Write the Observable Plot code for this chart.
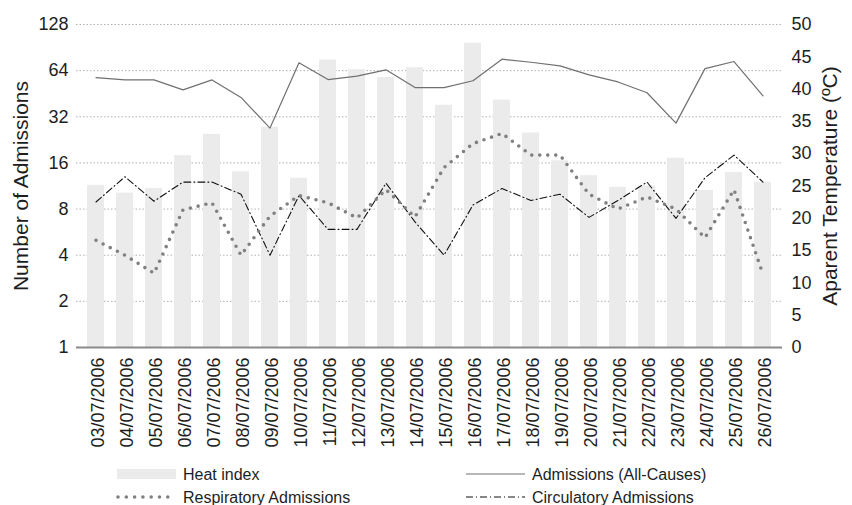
<!DOCTYPE html>
<html><head><meta charset="utf-8">
<script src="https://cdn.jsdelivr.net/npm/d3@7"></script>
<script src="https://cdn.jsdelivr.net/npm/@observablehq/plot@0.6"></script>
<style>
body{margin:0;background:#fff;font-family:"Liberation Sans",Arial,Helvetica,sans-serif;}
#wrap{width:852px;}
</style>
</head><body><div id="wrap"><div id="chart"></div><div id="legend"></div></div>
<script>
const dates = ["03/07/2006","04/07/2006","05/07/2006","06/07/2006","07/07/2006","08/07/2006","09/07/2006","10/07/2006","11/07/2006","12/07/2006","13/07/2006","14/07/2006","15/07/2006","16/07/2006","17/07/2006","18/07/2006","19/07/2006","20/07/2006","21/07/2006","22/07/2006","23/07/2006","24/07/2006","25/07/2006","26/07/2006"];
const heatIndex = [25.1,23.9,24.6,29.7,33.0,27.2,34.1,26.2,44.5,43.0,41.8,43.3,37.5,47.1,38.3,33.2,28.9,26.6,24.8,25.0,29.3,24.3,27.1,25.6];
const allCauses = [57.7,55.7,55.7,47.9,55.7,42.8,27,72,56,59,64.8,49.6,49.6,55,76,72.6,68.8,60,54,45.9,29.1,66,73.4,43.8];
const respiratory = [5,4,3.05,7.9,8.8,4,7.2,9.8,8.8,7.0,10.7,7.1,14.9,21.4,24.9,18,18,10,8,9.6,8,5.2,10.7,3];
const circulatory = [8.9,13,9,12,12,10,4,9.8,5.9,5.9,11.8,6.6,4,8.5,10.9,9.1,10,7.06,9.1,12,6.96,12.8,18,12];
const leftTicks = [1,2,4,8,16,32,64,128];
const rightTicks = [0,5,10,15,20,25,30,35,40,45,50];

const T = t => Math.pow(2, 7 * t / 50);
const rows = dates.map((d,i)=>({date:d, heat:heatIndex[i], all:allCauses[i], resp:respiratory[i], circ:circulatory[i]}));

const plot = Plot.plot({
  width: 852, height: 460,
  marginLeft: 76, marginRight: 70, marginTop: 24, marginBottom: 113,
  style: {fontFamily: '"Liberation Sans", Arial, Helvetica, sans-serif', fontSize: "18px", color: "#1e1e1e", background: "#fff", overflow: "visible"},
  x: {type: "band", domain: dates, paddingInner: 0.42, paddingOuter: 0.21},
  y: {type: "log", base: 2, domain: [1, 128]},
  marks: [
    Plot.gridY(leftTicks.slice(1), {stroke: "#b0b0b0", strokeOpacity: 1, strokeDasharray: "1.5,2"}),
    Plot.barY(rows, {x: "date", y1: 1, y2: d => T(d.heat), fill: "#ebebeb"}),
    Plot.ruleY([1], {stroke: "#8a8a8a", strokeWidth: 2}),
    Plot.line(rows, {x: "date", y: "all", stroke: "#707070", strokeWidth: 1.2}),
    Plot.line(rows, {x: "date", y: "circ", stroke: "#111", strokeWidth: 1.1, strokeDasharray: "7,3,1,3"}),
    Plot.line(rows, {x: "date", y: "resp", stroke: "#808080", strokeWidth: 3.6, strokeDasharray: "0,8", strokeLinecap: "round"}),
    Plot.axisY({ticks: leftTicks, tickSize: 0, tickPadding: 8, tickFormat: d => String(d), label: null, fontSize: 18}),
    Plot.axisY({anchor: "right", ticks: rightTicks.map(T), tickSize: 0, tickPadding: 9, tickFormat: v => String(Math.round(Math.log2(v) * 50 / 7)), label: null, fontSize: 18}),
    Plot.axisX({tickRotate: -90, tickSize: 0, tickPadding: 10, label: null, fontSize: 18, dx: 2}),
    Plot.text(["Number of Admissions"], {text: d => d, frameAnchor: "left", textAnchor: "middle", rotate: -90, dx: -55, fontSize: 21}),
    Plot.text(["Aparent Temperature (ºC)"], {text: d => d, frameAnchor: "right", textAnchor: "middle", rotate: -90, dx: 48, fontSize: 21})
  ]
});
document.getElementById("chart").appendChild(plot);

const legendItems = [
  {label: "Heat index", x: 117, y: 14, kind: "bar"},
  {label: "Respiratory Admissions", x: 117, y: 37, kind: "dots"},
  {label: "Admissions (All-Causes)", x: 466, y: 14, kind: "line"},
  {label: "Circulatory Admissions", x: 466, y: 37, kind: "dashdot"}
];
const svg = d3.select("#legend").append("svg").attr("width", 852).attr("height", 45)
  .style("display", "block")
  .attr("font-family", '"Liberation Sans", Arial, Helvetica, sans-serif').attr("font-size", 16).attr("fill", "#1e1e1e");
for (const it of legendItems) {
  const g = svg.append("g");
  if (it.kind === "bar") g.append("rect").attr("x", it.x).attr("y", it.y - 5).attr("width", 59).attr("height", 10).attr("fill", "#ebebeb");
  if (it.kind === "dots") g.append("line").attr("x1", it.x + 1).attr("x2", it.x + 59).attr("y1", it.y).attr("y2", it.y).attr("stroke", "#808080").attr("stroke-width", 3.6).attr("stroke-linecap", "round").attr("stroke-dasharray", "0,8.3");
  if (it.kind === "line") g.append("line").attr("x1", it.x).attr("x2", it.x + 59).attr("y1", it.y).attr("y2", it.y).attr("stroke", "#707070").attr("stroke-width", 1.2);
  if (it.kind === "dashdot") g.append("line").attr("x1", it.x).attr("x2", it.x + 59).attr("y1", it.y).attr("y2", it.y).attr("stroke", "#111").attr("stroke-width", 1.1).attr("stroke-dasharray", "7,3,1,3");
  g.append("text").attr("x", it.x + 66).attr("y", it.y).attr("dy", "0.35em").text(it.label);
}
</script></body></html>
